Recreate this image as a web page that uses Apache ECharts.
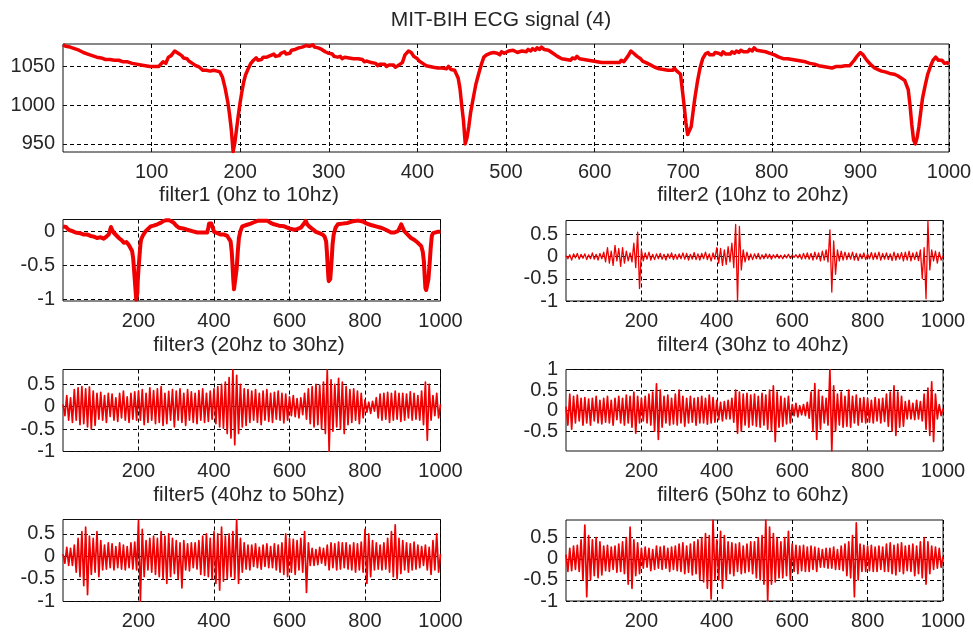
<!DOCTYPE html>
<html><head><meta charset="utf-8">
<script src="https://cdn.jsdelivr.net/npm/echarts@6/dist/echarts.min.js"></script>
<style>html,body{margin:0;padding:0;background:#fff}#c{width:973px;height:633px}</style>
</head><body><div id="c"></div>
<script>
// ---------- text ----------
const mainTitle = 'MIT-BIH ECG signal (4)';
const panelTitles = ['filter1 (0hz to 10hz)','filter2 (10hz to 20hz)','filter3 (20hz to 30hz)','filter4 (30hz to 40hz)','filter5 (40hz to 50hz)','filter6 (50hz to 60hz)'];

// ---------- ticks ----------
const mainXTicks = [100,200,300,400,500,600,700,800,900,1000];
const panelXTicks = [200,400,600,800,1000];
const mainYTicks = [950,1000,1050];
const f1YTicks = [-1,-0.5,0];
const f2YTicks = [-1,-0.5,0,0.5];
const f3YTicks = [-1,-0.5,0,0.5];
const f4YTicks = [-0.5,0,0.5,1];
const f5YTicks = [-1,-0.5,0,0.5];
const f6YTicks = [-1,-0.5,0,0.5];
const yRanges = [[939.5,1079],[-1.02,0.17],[-1,0.81],[-1,0.83],[-0.98,1.0],[-1,0.82],[-1,0.92]];

// ---------- data ----------
const mainSignal = [[0,1078],[3,1076],[5,1077],[8,1075],[10,1076],[13,1073],[15,1074],[18,1071],[20,1072],[23,1068],[25,1069],[28,1066],[30,1067],[33,1064],[35,1065],[38,1062],[40,1063],[43,1061],[45,1062],[48,1059],[50,1061],[53,1059],[55,1061],[58,1058],[60,1060],[63,1058],[65,1059],[68,1056],[70,1058],[73,1056],[75,1057],[78,1054],[80,1055],[83,1053],[85,1055],[88,1052],[90,1053],[93,1051],[95,1052],[98,1050],[100,1052],[103,1050],[105,1052],[108,1050],[110,1052],[113,1056],[116,1054],[119,1062],[122,1064],[126,1070],[130,1067],[134,1064],[136,1061],[138,1059],[140,1060],[142,1057],[144,1058],[146,1054],[148,1055],[150,1051],[152,1052],[154,1049],[156,1048],[158,1045],[160,1047],[162,1045],[164,1046],[166,1044],[168,1046],[170,1045],[172,1047],[174,1044],[177,1043],[180,1036],[183,1022],[186,1004],[188,988],[190,968],[192,940],[194,952],[196,970],[198,988],[200,1004],[202,1018],[204,1030],[206,1039],[209,1047],[212,1054],[215,1058],[218,1061],[220,1058],[222,1060],[224,1059],[226,1062],[228,1060],[230,1062],[232,1061],[234,1064],[236,1063],[238,1066],[240,1063],[242,1065],[244,1064],[246,1067],[248,1066],[250,1069],[252,1066],[254,1068],[256,1067],[258,1071],[260,1069],[262,1072],[264,1070],[266,1074],[268,1072],[270,1075],[272,1073],[274,1077],[276,1075],[278,1076],[280,1075],[282,1078],[284,1075],[286,1077],[288,1074],[290,1075],[292,1072],[294,1071],[296,1069],[298,1067],[300,1067],[302,1065],[304,1066],[306,1063],[308,1064],[310,1062],[313,1063],[315,1060],[318,1062],[320,1060],[323,1061],[325,1059],[328,1060],[330,1058],[333,1060],[335,1058],[338,1059],[340,1056],[343,1057],[345,1055],[348,1055],[350,1053],[353,1054],[355,1051],[358,1053],[360,1052],[363,1053],[365,1050],[368,1052],[370,1050],[373,1052],[375,1049],[378,1051],[380,1050],[383,1055],[386,1065],[390,1070],[393,1068],[396,1063],[398,1061],[400,1060],[402,1057],[404,1058],[406,1054],[408,1055],[410,1051],[412,1052],[414,1050],[416,1051],[418,1049],[420,1050],[423,1048],[425,1050],[428,1048],[430,1049],[433,1047],[435,1050],[438,1046],[440,1048],[442,1045],[444,1046],[446,1035],[448,1022],[450,1000],[452,980],[454,950],[456,958],[458,972],[460,990],[463,1009],[466,1027],[469,1040],[472,1052],[475,1062],[478,1065],[480,1064],[482,1067],[484,1065],[486,1068],[488,1066],[490,1067],[493,1065],[495,1069],[498,1067],[500,1069],[503,1070],[505,1068],[508,1071],[510,1069],[513,1068],[515,1066],[518,1070],[520,1071],[523,1069],[525,1072],[528,1070],[530,1073],[533,1071],[535,1074],[538,1072],[540,1075],[543,1072],[545,1074],[548,1071],[550,1070],[553,1067],[555,1066],[558,1063],[560,1062],[563,1060],[565,1062],[568,1059],[570,1060],[573,1058],[575,1061],[578,1060],[580,1063],[583,1060],[585,1062],[588,1059],[590,1061],[593,1058],[595,1060],[598,1057],[600,1059],[603,1056],[605,1058],[608,1055],[610,1057],[613,1055],[615,1057],[618,1055],[620,1057],[623,1055],[625,1057],[628,1055],[630,1058],[633,1056],[635,1057],[638,1064],[641,1070],[644,1067],[648,1063],[650,1061],[652,1060],[654,1057],[656,1058],[658,1055],[660,1054],[663,1052],[665,1053],[668,1049],[670,1050],[673,1047],[675,1049],[678,1046],[680,1048],[683,1045],[685,1047],[688,1045],[690,1048],[692,1045],[694,1046],[697,1040],[699,1020],[701,1000],[703,978],[705,962],[707,964],[709,972],[711,990],[713,1008],[716,1030],[719,1048],[722,1060],[725,1066],[728,1068],[730,1065],[732,1067],[734,1065],[736,1068],[738,1066],[740,1067],[743,1065],[745,1069],[748,1066],[750,1068],[753,1066],[755,1069],[758,1067],[760,1070],[763,1068],[765,1071],[768,1069],[770,1071],[773,1069],[775,1072],[778,1070],[780,1074],[783,1071],[785,1073],[788,1070],[790,1072],[793,1069],[795,1070],[798,1067],[800,1068],[803,1065],[805,1064],[808,1062],[810,1063],[813,1060],[815,1062],[818,1060],[820,1062],[823,1059],[825,1061],[828,1058],[830,1060],[833,1057],[835,1059],[838,1056],[840,1058],[843,1054],[845,1056],[848,1053],[850,1055],[853,1051],[855,1053],[858,1050],[860,1052],[863,1049],[865,1051],[868,1048],[870,1050],[873,1050],[875,1052],[878,1050],[880,1052],[883,1051],[885,1053],[888,1051],[890,1053],[893,1058],[896,1063],[900,1068],[903,1065],[906,1060],[908,1057],[910,1056],[912,1052],[914,1051],[916,1048],[918,1049],[920,1046],[922,1047],[924,1044],[926,1045],[928,1043],[930,1044],[933,1041],[935,1043],[938,1040],[940,1042],[942,1038],[944,1039],[946,1035],[948,1036],[950,1032],[952,1033],[954,1020],[956,1000],[958,975],[960,955],[962,950],[964,958],[966,972],[968,990],[970,1008],[973,1025],[976,1040],[979,1050],[982,1058],[985,1062],[988,1058],[990,1056],[992,1058],[995,1054],[998,1055],[1000,1053]];

const filter1Signal = [[0,0.07],[8,0.06],[15,0.02],[25,0.0],[33,-0.02],[45,-0.03],[55,-0.05],[65,-0.05],[73,-0.07],[82,-0.08],[90,-0.10],[100,-0.09],[108,-0.11],[115,-0.08],[121,-0.05],[124,0.0],[127,0.06],[130,0.02],[134,-0.02],[141,-0.06],[148,-0.10],[155,-0.13],[161,-0.17],[168,-0.16],[174,-0.20],[179,-0.22],[183,-0.29],[186,-0.40],[188,-0.55],[190,-0.70],[192,-0.85],[194,-1.0],[195,-1.02],[197,-0.90],[198,-0.73],[200,-0.55],[203,-0.34],[205,-0.20],[207,-0.12],[212,-0.06],[219,0.0],[225,0.03],[232,0.07],[240,0.08],[250,0.10],[258,0.12],[267,0.15],[274,0.16],[281,0.16],[288,0.14],[294,0.12],[300,0.08],[307,0.05],[318,0.04],[329,0.02],[342,0.0],[356,-0.02],[370,-0.02],[382,-0.02],[385,0.05],[387,0.11],[390,0.12],[393,0.11],[397,0.05],[400,-0.01],[409,-0.03],[418,-0.05],[427,-0.05],[435,-0.07],[440,-0.08],[444,-0.15],[447,-0.30],[449,-0.49],[451,-0.70],[453,-0.85],[455,-0.83],[457,-0.86],[460,-0.55],[463,-0.30],[466,-0.10],[470,0.0],[475,0.07],[486,0.09],[497,0.11],[506,0.13],[515,0.15],[528,0.15],[542,0.15],[550,0.12],[559,0.10],[572,0.08],[586,0.07],[599,0.04],[612,0.02],[620,0.03],[630,0.05],[637,0.10],[643,0.15],[647,0.10],[652,0.07],[661,0.03],[670,-0.01],[679,-0.03],[688,-0.05],[693,-0.08],[697,-0.15],[699,-0.30],[701,-0.49],[703,-0.68],[704,-0.73],[706,-0.72],[708,-0.70],[710,-0.55],[712,-0.39],[714,-0.20],[717,-0.05],[722,0.05],[728,0.10],[740,0.11],[754,0.12],[765,0.14],[776,0.15],[785,0.15],[794,0.14],[805,0.11],[816,0.09],[829,0.07],[842,0.05],[855,0.02],[869,-0.02],[878,-0.02],[887,0.0],[892,0.05],[896,0.10],[900,0.05],[904,0.0],[913,-0.05],[922,-0.10],[931,-0.13],[940,-0.17],[945,-0.19],[949,-0.22],[953,-0.30],[956,-0.44],[958,-0.65],[960,-0.83],[962,-0.86],[965,-0.85],[968,-0.70],[971,-0.49],[974,-0.25],[977,-0.07],[980,-0.03],[984,-0.02],[992,-0.01],[1000,-0.01]];

// band-pass outputs, one reading every 5 samples (x = 0, 5, ..., 1000)
const sampleStep = 5;
const filter2Signal = [0.02,-0.05,0.04,-0.08,0.06,-0.03,0.07,-0.06,0.05,-0.04,
0.06,-0.07,0.04,-0.05,0.08,-0.06,0.05,-0.08,0.07,-0.05,
0.1,-0.12,0.2,-0.15,0.12,-0.2,0.25,-0.1,0.18,-0.22,
0.2,-0.15,0.12,-0.1,0.08,-0.12,0.3,-0.25,0.55,-0.72,
0.15,-0.1,0.08,-0.06,0.1,-0.08,0.05,-0.07,0.06,-0.05,
0.07,-0.06,0.05,-0.08,0.06,-0.04,0.08,-0.07,0.05,-0.06,
0.06,-0.05,0.08,-0.06,0.07,-0.08,0.05,-0.06,0.09,-0.07,
0.06,-0.08,0.07,-0.05,0.1,-0.07,0.06,-0.1,0.08,-0.06,
0.2,-0.15,0.18,-0.2,0.15,-0.18,0.22,-0.12,0.3,-0.25,
0.72,-1.0,0.68,-0.3,0.15,-0.12,0.1,-0.08,0.06,-0.07,
0.06,-0.05,0.07,-0.06,0.04,-0.05,0.06,-0.04,0.05,-0.06,
0.04,-0.03,0.05,-0.04,0.03,-0.05,0.04,-0.03,0.05,-0.04,
0.03,-0.02,0.04,-0.03,0.05,-0.06,0.07,-0.05,0.08,-0.06,
0.07,-0.08,0.1,-0.06,0.08,-0.1,0.12,-0.08,0.15,-0.12,
0.6,-0.8,0.35,-0.4,0.15,-0.1,0.12,-0.08,0.1,-0.07,
0.08,-0.06,0.1,-0.08,0.07,-0.09,0.06,-0.05,0.08,-0.07,
0.06,-0.05,0.09,-0.07,0.08,-0.06,0.1,-0.08,0.07,-0.06,
0.08,-0.07,0.06,-0.09,0.1,-0.08,0.07,-0.06,0.09,-0.1,
0.1,-0.08,0.12,-0.1,0.08,-0.07,0.1,-0.09,0.15,-0.5,
0.2,-0.95,0.8,-0.3,0.15,-0.1,0.12,-0.15,0.1,-0.08,
0.02];
const filter3Signal = [0.05,-0.2,0.25,-0.3,0.2,-0.35,0.38,-0.3,0.42,-0.4,
0.45,-0.38,0.4,-0.45,0.44,-0.5,0.35,-0.42,0.3,-0.28,
0.32,-0.3,0.25,-0.35,0.3,-0.22,0.28,-0.3,0.2,-0.33,
0.3,-0.25,0.35,-0.3,0.22,-0.35,0.3,-0.28,0.33,-0.3,
0.35,-0.3,0.38,-0.4,0.3,-0.35,0.42,-0.3,0.36,-0.38,
0.4,-0.35,0.45,-0.42,0.3,-0.38,0.34,-0.3,0.38,-0.45,
0.35,-0.3,0.4,-0.35,0.3,-0.42,0.38,-0.3,0.33,-0.35,
0.3,-0.38,0.36,-0.3,0.4,-0.35,0.3,-0.33,0.35,-0.28,
0.4,-0.38,0.45,-0.45,0.5,-0.48,0.55,-0.6,0.65,-0.7,
0.83,-0.85,0.7,-0.6,0.5,-0.45,0.4,-0.42,0.38,-0.35,
0.35,-0.3,0.38,-0.35,0.3,-0.4,0.35,-0.3,0.38,-0.33,
0.3,-0.35,0.32,-0.28,0.35,-0.3,0.3,-0.36,0.28,-0.3,
0.22,-0.2,0.25,-0.22,0.18,-0.25,0.2,-0.18,0.3,-0.28,
0.4,-0.38,0.45,-0.45,0.5,-0.4,0.48,-0.5,0.55,-0.6,
0.83,-1.0,0.6,-0.55,0.5,-0.45,0.63,-0.5,0.55,-0.6,
0.45,-0.4,0.38,-0.35,0.4,-0.3,0.35,-0.38,0.3,-0.25,
0.15,-0.12,0.1,-0.15,0.12,-0.1,0.2,-0.25,0.28,-0.3,
0.3,-0.28,0.32,-0.35,0.3,-0.3,0.35,-0.28,0.3,-0.33,
0.3,-0.3,0.28,-0.25,0.33,-0.3,0.3,-0.28,0.25,-0.3,
0.35,-0.4,0.55,-0.75,0.5,-0.3,0.25,-0.2,0.3,-0.25,
0.05];
const filter4Signal = [0.1,-0.35,0.4,-0.45,0.35,-0.3,0.38,-0.25,0.3,-0.35,
0.32,-0.3,0.28,-0.35,0.3,-0.25,0.35,-0.3,0.25,-0.32,
0.3,-0.28,0.35,-0.3,0.25,-0.35,0.3,-0.22,0.35,-0.3,
0.3,-0.35,0.38,-0.3,0.35,-0.4,0.45,-0.55,0.35,-0.3,
0.3,-0.25,0.35,-0.3,0.4,-0.35,0.45,-0.5,0.65,-0.7,
0.5,-0.4,0.35,-0.3,0.38,-0.35,0.3,-0.32,0.4,-0.35,
0.5,-0.3,0.35,-0.38,0.3,-0.3,0.35,-0.28,0.3,-0.35,
0.32,-0.3,0.35,-0.3,0.3,-0.33,0.38,-0.3,0.32,-0.28,
0.25,-0.22,0.2,-0.25,0.22,-0.2,0.25,-0.2,0.3,-0.28,
0.5,-0.55,0.45,-0.5,0.4,-0.35,0.42,-0.4,0.38,-0.35,
0.4,-0.38,0.35,-0.4,0.42,-0.35,0.38,-0.45,0.5,-0.5,
0.6,-0.75,0.45,-0.4,0.35,-0.38,0.3,-0.32,0.35,-0.3,
0.15,-0.12,0.18,-0.15,0.12,-0.1,0.15,-0.12,0.2,-0.18,
0.45,-0.5,0.66,-0.7,0.5,-0.45,0.35,-0.3,0.3,-0.35,
1.0,-0.98,0.6,-0.5,0.4,-0.35,0.45,-0.4,0.35,-0.38,
0.5,-0.4,0.35,-0.3,0.38,-0.35,0.3,-0.28,0.32,-0.3,
0.3,-0.28,0.25,-0.3,0.32,-0.25,0.28,-0.3,0.3,-0.26,
0.4,-0.38,0.45,-0.5,0.6,-0.6,0.45,-0.4,0.35,-0.38,
0.22,-0.2,0.25,-0.2,0.18,-0.22,0.25,-0.2,0.22,-0.25,
0.4,-0.45,0.55,-0.6,0.7,-0.75,0.4,-0.2,0.15,-0.12,
0.05];
const filter5Signal = [0.05,-0.15,0.2,-0.2,0.18,-0.2,0.25,-0.35,0.4,-0.45,
0.55,-0.65,0.65,-0.85,0.45,-0.4,0.4,-0.35,0.55,-0.45,
0.35,-0.3,0.25,-0.28,0.3,-0.25,0.28,-0.3,0.22,-0.25,
0.3,-0.28,0.25,-0.3,0.22,-0.25,0.3,-0.28,0.32,-0.3,
0.8,-1.0,0.6,-0.45,0.35,-0.3,0.4,-0.35,0.45,-0.4,
0.4,-0.45,0.55,-0.5,0.45,-0.6,0.5,-0.45,0.4,-0.38,
0.35,-0.5,0.3,-0.7,0.35,-0.3,0.28,-0.32,0.3,-0.25,
0.3,-0.28,0.35,-0.4,0.45,-0.42,0.5,-0.45,0.4,-0.5,
0.55,-0.6,0.5,-0.75,0.65,-0.55,0.45,-0.5,0.5,-0.45,
0.55,-0.5,0.82,-0.6,0.4,-0.35,0.3,-0.28,0.25,-0.3,
0.25,-0.22,0.28,-0.25,0.2,-0.28,0.25,-0.22,0.28,-0.25,
0.22,-0.25,0.28,-0.3,0.25,-0.35,0.3,-0.4,0.5,-0.45,
0.4,-0.35,0.38,-0.4,0.35,-0.3,0.4,-0.35,0.55,-0.8,
0.3,-0.2,0.18,-0.2,0.15,-0.18,0.2,-0.15,0.18,-0.2,
0.25,-0.3,0.3,-0.25,0.28,-0.3,0.32,-0.28,0.3,-0.25,
0.3,-0.28,0.25,-0.3,0.3,-0.35,0.28,-0.3,0.32,-0.35,
0.6,-0.6,0.5,-0.45,0.35,-0.3,0.3,-0.28,0.25,-0.3,
0.3,-0.28,0.4,-0.35,0.55,-0.45,0.7,-0.5,0.4,-0.38,
0.35,-0.3,0.3,-0.35,0.28,-0.3,0.32,-0.28,0.25,-0.25,
0.22,-0.2,0.25,-0.3,0.2,-0.4,0.35,-0.3,0.5,-0.35,
0.05];
const filter6Signal = [0.1,-0.3,0.25,-0.28,0.3,-0.25,0.32,-0.3,0.45,-0.5,
0.8,-0.9,0.55,-0.5,0.45,-0.4,0.5,-0.45,0.4,-0.38,
0.3,-0.28,0.32,-0.3,0.28,-0.25,0.3,-0.32,0.35,-0.3,
0.4,-0.35,0.5,-0.6,0.75,-0.7,0.45,-0.4,0.38,-0.35,
0.25,-0.22,0.28,-0.2,0.25,-0.28,0.22,-0.25,0.3,-0.22,
0.28,-0.25,0.3,-0.22,0.25,-0.3,0.28,-0.25,0.3,-0.28,
0.35,-0.3,0.38,-0.35,0.3,-0.32,0.35,-0.38,0.4,-0.35,
0.45,-0.5,0.5,-0.55,0.6,-0.7,0.55,-0.95,0.92,-0.5,
0.45,-0.5,0.65,-0.7,0.55,-0.5,0.4,-0.35,0.38,-0.4,
0.35,-0.3,0.38,-0.35,0.3,-0.33,0.35,-0.3,0.4,-0.35,
0.4,-0.45,0.5,-0.5,0.55,-0.6,0.92,-1.0,0.75,-0.6,
0.6,-0.55,0.5,-0.45,0.4,-0.45,0.5,-0.4,0.65,-0.5,
0.35,-0.3,0.32,-0.35,0.3,-0.28,0.32,-0.3,0.28,-0.3,
0.3,-0.25,0.28,-0.3,0.25,-0.2,0.22,-0.2,0.25,-0.22,
0.25,-0.22,0.28,-0.25,0.22,-0.25,0.3,-0.28,0.35,-0.4,
0.4,-0.45,0.55,-0.9,0.85,-0.5,0.35,-0.3,0.32,-0.3,
0.3,-0.28,0.32,-0.3,0.28,-0.3,0.3,-0.25,0.28,-0.3,
0.35,-0.3,0.38,-0.35,0.32,-0.38,0.35,-0.3,0.38,-0.35,
0.3,-0.28,0.32,-0.3,0.35,-0.4,0.3,-0.35,0.4,-0.45,
0.5,-0.6,0.4,-0.35,0.3,-0.25,0.28,-0.22,0.25,-0.2,
0.05];

// ---------- layout ----------
const FONT = 'Liberation Sans, Arial, Helvetica, sans-serif';
const TXT = '#262626';
const RED = '#f00000';
const grids = [
  {left:63, top:44, width:886, height:108},
  {left:63, top:219.5, width:377.5, height:81.5},
  {left:566, top:220.5, width:377, height:80.5},
  {left:63, top:369.5, width:377.5, height:82},
  {left:566, top:369.5, width:377, height:81.5},
  {left:63, top:519.5, width:377.5, height:82},
  {left:566, top:520, width:377, height:81}
].map(g => Object.assign({show:true, borderColor:'#111', borderWidth:1, backgroundColor:'#fff', containLabel:false, outerBoundsMode:'none'}, g));

const yTickSets = [mainYTicks, f1YTicks, f2YTicks, f3YTicks, f4YTicks, f5YTicks, f6YTicks];
const dashed = {show:true, lineStyle:{color:'#000', width:1, type:[4,3]}};
const plain = v => String(v);

const xAxes = grids.map((g,i) => ({
  type:'value', gridIndex:i, min:0, max:1000,
  axisLine:{show:false},
  axisTick:{show:true, inside:true, length:4, lineStyle:{color:'#111'}, customValues: i===0 ? mainXTicks : panelXTicks},
  axisLabel:{show:true, customValues: i===0 ? mainXTicks : panelXTicks, formatter:plain, margin:10, fontFamily:FONT, fontSize:20, color:TXT},
  splitLine:dashed
}));
const yAxes = grids.map((g,i) => ({
  type:'value', gridIndex:i, min:yRanges[i][0], max:yRanges[i][1],
  axisLine:{show:false},
  axisTick:{show:true, inside:true, length:4, lineStyle:{color:'#111'}, customValues: yTickSets[i]},
  axisLabel:{show:true, customValues: yTickSets[i], formatter:plain, margin:8, fontFamily:FONT, fontSize:20, color:TXT},
  splitLine:dashed
}));

const toPoints = arr => arr.map((v,k) => [k*sampleStep, v]);
const seriesData = [mainSignal, filter1Signal, toPoints(filter2Signal), toPoints(filter3Signal), toPoints(filter4Signal), toPoints(filter5Signal), toPoints(filter6Signal)];
const widths = [3.5, 4, 1.3, 1.7, 1.7, 1.7, 1.7];
const series = seriesData.map((d,i) => ({
  type:'line', xAxisIndex:i, yAxisIndex:i, data:d, showSymbol:false, symbol:'none',
  lineStyle:{color:RED, width:widths[i], join:'round'}, clip:true, silent:true, z:5
}));

const titlePos = [[501,20],[249,195],[753,195],[249,345],[753,345],[249,495],[753,495]];
const titleTexts = [mainTitle].concat(panelTitles);
const graphic = titleTexts.map((t,i) => ({
  type:'text', x:titlePos[i][0], y:titlePos[i][1], silent:true,
  style:{text:t, fill:TXT, font:'21px ' + FONT, textAlign:'center', textVerticalAlign:'middle'}
}));

const chart = echarts.init(document.getElementById('c'), null, {renderer:'canvas'});
chart.setOption({
  animation:false,
  backgroundColor:'#fff',
  grid:grids, xAxis:xAxes, yAxis:yAxes, series:series, graphic:graphic
});
</script></body></html>
